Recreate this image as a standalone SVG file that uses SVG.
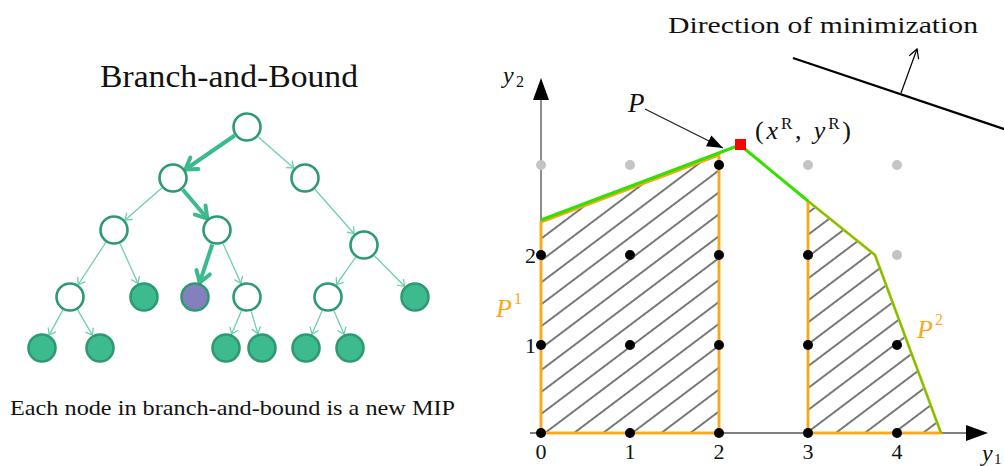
<svg xmlns="http://www.w3.org/2000/svg" width="1004" height="466" viewBox="0 0 1004 466">
<style>
.serif{font-family:"Liberation Serif","Times New Roman",serif;fill:#111}
.nd{fill:#fff;stroke:#2e9a72;stroke-width:2.6}
.lf{fill:#3dbb8f;stroke:#2e9a72;stroke-width:2.6}
.pu{fill:#8480bf;stroke:#2e9a72;stroke-width:2.6}
.thin{stroke:#6dd0a8;stroke-width:1.3;fill:none;marker-end:url(#vthin)}
.thick{stroke:#3cba8c;stroke-width:4;fill:none;marker-end:url(#vthick)}
.dot{fill:#000}
.gdot{fill:#c4c4c4}
.org{fill:url(#hatch);stroke:#f9a81a;stroke-width:2.5;stroke-linejoin:round}
.it{font-style:italic}
</style>
<defs>
<marker id="vthin" markerUnits="userSpaceOnUse" markerWidth="14" markerHeight="14" viewBox="-10 -7 12 14" refX="0" refY="0" orient="auto">
<path d="M-6,-4.5 L0,0 L-6,4.5" fill="none" stroke="#6dd0a8" stroke-width="1.3"/>
</marker>
<marker id="vthick" markerUnits="userSpaceOnUse" markerWidth="20" markerHeight="20" viewBox="-14 -10 16 20" refX="0" refY="0" orient="auto">
<path d="M-11,-7 L0,0 L-11,7" fill="none" stroke="#3cba8c" stroke-width="4" stroke-linejoin="round" stroke-linecap="round"/>
</marker>
<marker id="blk" markerUnits="userSpaceOnUse" markerWidth="20" markerHeight="20" viewBox="-18 -10 20 20" refX="0" refY="0" orient="auto">
<path d="M-16,-6 L0,0 L-16,6 Z" fill="#000"/>
</marker>
<marker id="openv" markerUnits="userSpaceOnUse" markerWidth="16" markerHeight="16" viewBox="-12 -8 14 16" refX="0" refY="0" orient="auto">
<path d="M-9,-5 L0,0 L-9,5" fill="none" stroke="#000" stroke-width="1.2"/>
</marker>
<pattern id="hatch" patternUnits="userSpaceOnUse" width="12" height="17.5" patternTransform="rotate(-37)">
<line x1="-1" y1="8.75" x2="13" y2="8.75" stroke="#222" stroke-width="1.2"/>
</pattern>
</defs>
<rect width="1004" height="466" fill="#fff"/>

<text class="serif" x="100" y="87" font-size="32" textLength="258" lengthAdjust="spacingAndGlyphs">Branch-and-Bound</text>

<g id="connectors">
<line class="thick" x1="234.7" y1="135.5" x2="185.3" y2="169.5"/>
<line class="thin" x1="258.3" y1="136.9" x2="293.7" y2="168.1"/>
<line class="thin" x1="161.7" y1="187.9" x2="125.2" y2="220.1"/>
<line class="thick" x1="182.7" y1="189.5" x2="207.3" y2="218.5"/>
<line class="thin" x1="314.9" y1="189.3" x2="354.1" y2="233.7"/>
<line class="thin" x1="105.8" y1="242.5" x2="78.2" y2="284.5"/>
<line class="thin" x1="120.1" y1="243.7" x2="137.9" y2="283.3"/>
<line class="thick" x1="212.3" y1="244.3" x2="199.7" y2="282.7"/>
<line class="thin" x1="223.1" y1="243.7" x2="240.9" y2="283.3"/>
<line class="thin" x1="355.5" y1="257.3" x2="336.5" y2="284.7"/>
<line class="thin" x1="374.5" y1="255.7" x2="404.5" y2="286.3"/>
<line class="thin" x1="62.8" y1="310.1" x2="49.2" y2="334.9"/>
<line class="thin" x1="77.6" y1="309.9" x2="92.4" y2="335.1"/>
<line class="thin" x1="241.3" y1="310.9" x2="231.7" y2="334.1"/>
<line class="thin" x1="251.2" y1="311.4" x2="257.8" y2="333.6"/>
<line class="thin" x1="322.1" y1="310.8" x2="311.9" y2="334.2"/>
<line class="thin" x1="333.9" y1="310.8" x2="344.1" y2="334.2"/>
</g>

<g id="n-root"><circle class="nd" cx="247" cy="127" r="13.5"/></g>
<g id="n-a"><circle class="nd" cx="173" cy="178" r="13.5"/></g>
<g id="n-b"><circle class="nd" cx="305" cy="178" r="13.5"/></g>
<g id="n-c"><circle class="nd" cx="114" cy="230" r="13.5"/></g>
<g id="n-d"><circle class="nd" cx="217" cy="230" r="13.5"/></g>
<g id="n-e"><circle class="nd" cx="364" cy="245" r="13.5"/></g>
<g id="n-f"><circle class="nd" cx="70" cy="297" r="13.5"/></g>
<g id="n-g"><circle class="lf" cx="144" cy="297" r="13.5"/></g>
<g id="n-h"><circle class="pu" cx="195" cy="297" r="13.5"/></g>
<g id="n-i"><circle class="nd" cx="247" cy="297" r="13.5"/></g>
<g id="n-j"><circle class="nd" cx="328" cy="297" r="13.5"/></g>
<g id="n-k"><circle class="lf" cx="415" cy="297" r="13.5"/></g>
<g id="n-l"><circle class="lf" cx="42" cy="348" r="13.5"/></g>
<g id="n-m"><circle class="lf" cx="100" cy="348" r="13.5"/></g>
<g id="n-n"><circle class="lf" cx="226" cy="348" r="13.5"/></g>
<g id="n-o"><circle class="lf" cx="262" cy="348" r="13.5"/></g>
<g id="n-q"><circle class="lf" cx="306" cy="348" r="13.5"/></g>
<g id="n-s"><circle class="lf" cx="350" cy="348" r="13.5"/></g>

<text class="serif" x="10" y="415" font-size="21" textLength="445" lengthAdjust="spacingAndGlyphs">Each node in branch-and-bound is a new MIP</text>

<!-- Right plot -->
<g id="p1"><polygon class="org" points="541,433 541,222 719,155 719,433"/></g>
<g id="p2"><polygon class="org" points="808,433 808,201 875,255 941,433"/></g>

<g id="axes">
<line x1="541" y1="433" x2="541" y2="98" stroke="#666" stroke-width="1.5"/>
<polygon points="541,78 533,100 549,100" fill="#000"/>
<line x1="530" y1="433" x2="968" y2="433" stroke="#555" stroke-width="1.5"/>
<polygon points="988,433 966,425 966,441" fill="#000"/>
</g>

<g id="outlines" fill="none" stroke="#f9a81a" stroke-width="2.5">
<polyline points="541,433 541,222 719,155 719,433 541,433"/>
<polyline points="808,433 808,201 875,255 941,433 808,433"/>
</g>
<g id="green" fill="none" stroke="#33e000" stroke-linejoin="round">
<polyline points="541,220 740,145 808,201" stroke-width="3"/>
<polyline points="808,201 875,255 941,433" stroke-width="1.4"/>
</g>

<g id="points">
<circle class="gdot" cx="541" cy="165" r="5"/>
<circle class="gdot" cx="630" cy="165" r="5"/>
<circle class="dot" cx="719" cy="165" r="5"/>
<circle class="gdot" cx="808" cy="165" r="5"/>
<circle class="gdot" cx="897" cy="165" r="5"/>
<circle class="dot" cx="541" cy="255" r="5"/>
<circle class="dot" cx="630" cy="255" r="5"/>
<circle class="dot" cx="719" cy="255" r="5"/>
<circle class="dot" cx="808" cy="255" r="5"/>
<circle class="gdot" cx="897" cy="255" r="5"/>
<circle class="dot" cx="541" cy="345" r="5"/>
<circle class="dot" cx="630" cy="345" r="5"/>
<circle class="dot" cx="719" cy="345" r="5"/>
<circle class="dot" cx="808" cy="345" r="5"/>
<circle class="dot" cx="897" cy="345" r="5"/>
<circle class="dot" cx="541" cy="433" r="5"/>
<circle class="dot" cx="630" cy="433" r="5"/>
<circle class="dot" cx="719" cy="433" r="5"/>
<circle class="dot" cx="808" cy="433" r="5"/>
<circle class="dot" cx="897" cy="433" r="5"/>
</g>
<rect id="xr" x="735" y="139" width="11" height="11" fill="#f00"/>

<g id="p-arrow"><line x1="645" y1="109" x2="723" y2="148" stroke="#222" stroke-width="1.3" marker-end="url(#blk)"/></g>
<g id="min-line">
<line x1="793" y1="58" x2="1010" y2="131" stroke="#000" stroke-width="2.2"/>
<line x1="901" y1="93" x2="917" y2="49" stroke="#000" stroke-width="1.2" marker-end="url(#openv)"/>
</g>

<g class="serif">
<text x="668" y="33" font-size="23" textLength="310" lengthAdjust="spacingAndGlyphs">Direction of minimization</text>
<text x="628" y="112" font-size="27" class="it">P</text>
<text x="755" y="139" font-size="26" textLength="96" lengthAdjust="spacing">(<tspan class="it">x</tspan><tspan font-size="17" dy="-10">R</tspan><tspan dy="10">, </tspan><tspan class="it">y</tspan><tspan font-size="17" dy="-10">R</tspan><tspan dy="10">)</tspan></text>
<text x="503" y="83" font-size="24" class="it">y</text><text x="516" y="87" font-size="16">2</text>
<text x="982" y="461" font-size="24" class="it">y</text><text x="994" y="464" font-size="15">1</text>
<text x="541" y="459" font-size="22" text-anchor="middle">0</text>
<text x="630" y="459" font-size="22" text-anchor="middle">1</text>
<text x="719" y="459" font-size="22" text-anchor="middle">2</text>
<text x="808" y="459" font-size="22" text-anchor="middle">3</text>
<text x="897" y="459" font-size="22" text-anchor="middle">4</text>
<text x="536" y="263" font-size="22" text-anchor="end">2</text>
<text x="536" y="353" font-size="22" text-anchor="end">1</text>
<text x="496" y="317" font-size="26" class="it" style="fill:#f9a81a">P</text><text x="514" y="304" font-size="16" style="fill:#f9a81a">1</text>
<text x="917" y="338" font-size="26" class="it" style="fill:#f9a81a">P</text><text x="935" y="325" font-size="16" style="fill:#f9a81a">2</text>
</g>
</svg>
